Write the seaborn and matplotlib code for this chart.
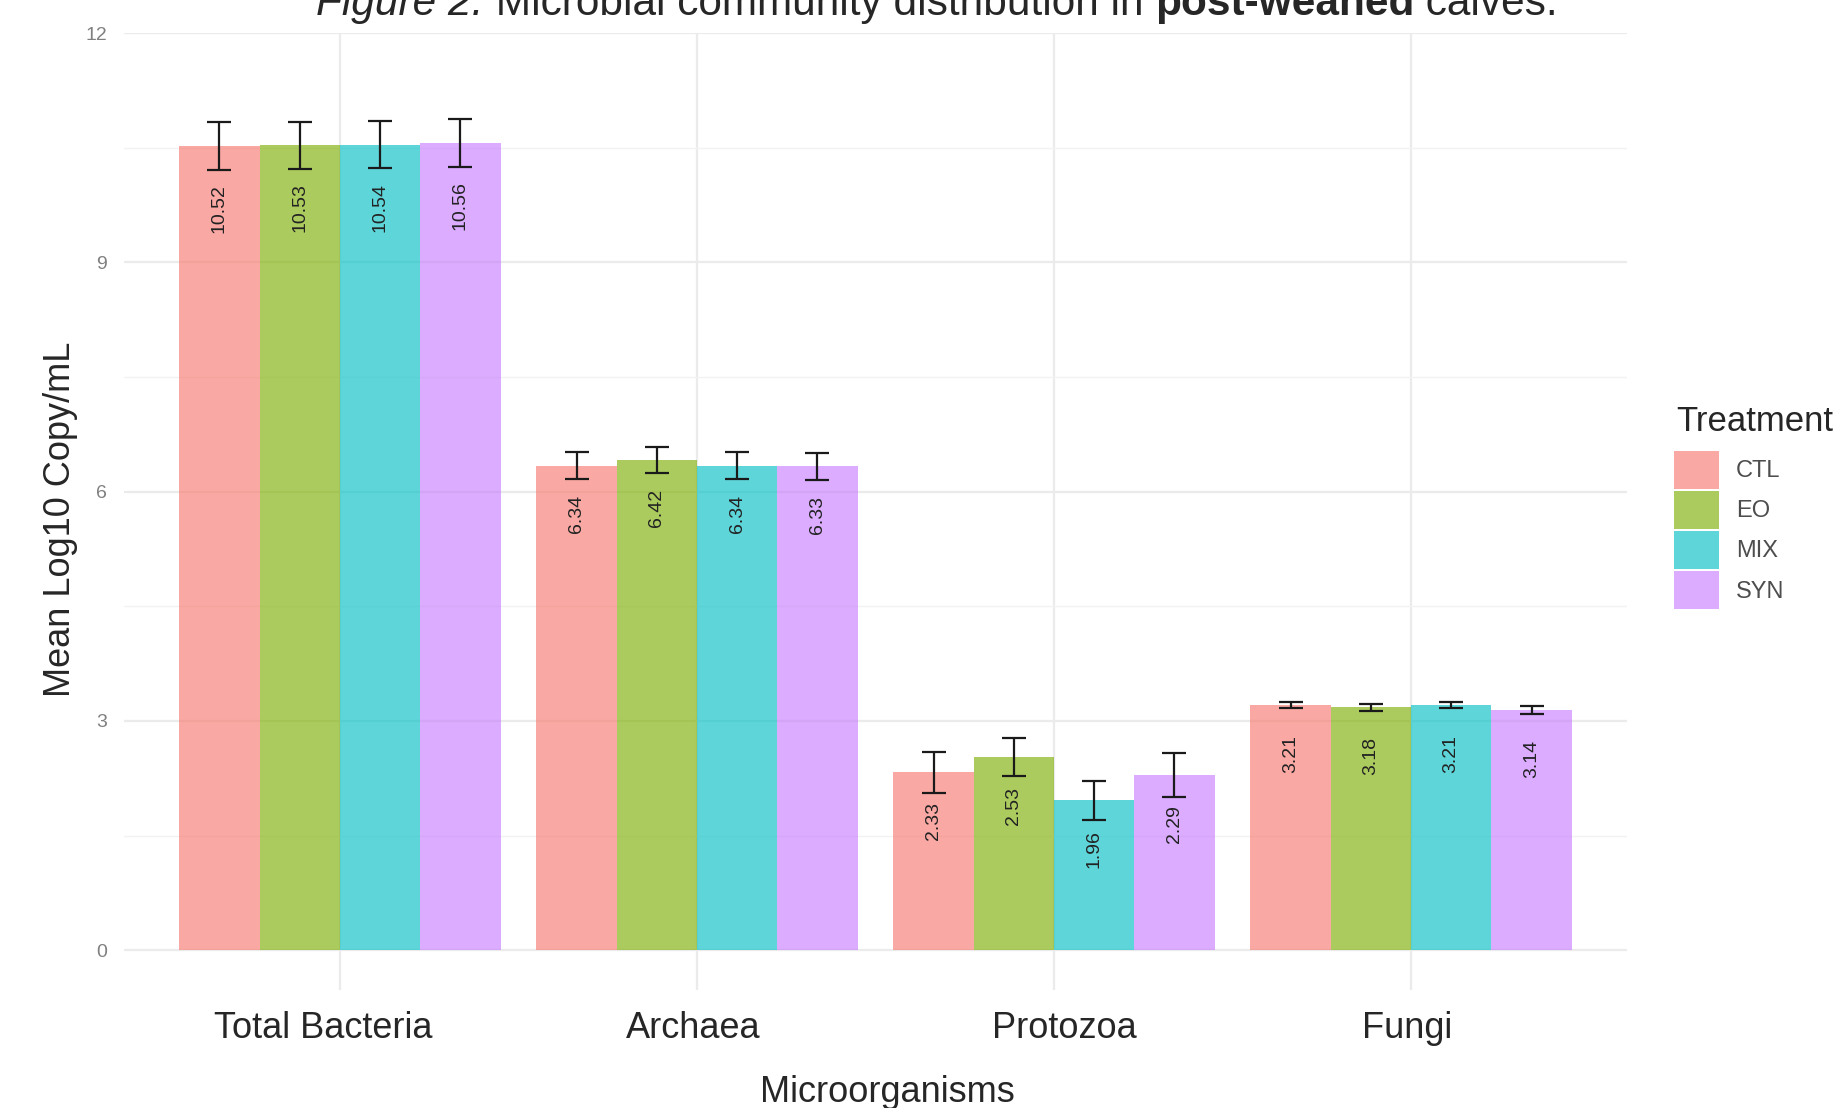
import numpy as np
import pandas as pd
import matplotlib
matplotlib.use('Agg')
import matplotlib.pyplot as plt
import matplotlib.transforms as mtransforms
import seaborn as sns

# values
microbes = ['Total Bacteria', 'Archaea', 'Protozoa', 'Fungi']
treatments = ['CTL', 'EO', 'MIX', 'SYN']
means = {
    'CTL': [10.52, 6.34, 2.33, 3.21],
    'EO':  [10.53, 6.42, 2.53, 3.18],
    'MIX': [10.54, 6.34, 1.96, 3.21],
    'SYN': [10.56, 6.33, 2.29, 3.14],
}
ses = {
    'CTL': [0.31, 0.18, 0.27, 0.04],
    'EO':  [0.31, 0.17, 0.25, 0.045],
    'MIX': [0.31, 0.18, 0.25, 0.04],
    'SYN': [0.31, 0.18, 0.29, 0.05],
}
palette = ['#F8766D', '#7CAE00', '#00BFC4', '#C77CFF']
# the category labels sit a little off their gridlines in the original (px)
label_shift = [-17, -3.5, 10.5, -3.5]

rows = []
for t in treatments:
    for m, v, s in zip(microbes, means[t], ses[t]):
        rows.append({'Microorganisms': m, 'Treatment': t, 'Mean': v, 'SE': s})
df = pd.DataFrame(rows)

sns.set_theme(style='white')
plt.rcParams['font.family'] = ['Liberation Sans', 'DejaVu Sans']

W, H = 1849, 1108
fig = plt.figure(figsize=(W / 100, H / 100), dpi=100)
ax = fig.add_axes([124 / W, 1 - 990 / H, (1627 - 124) / W, (990 - 33) / H])

sns.barplot(data=df, x='Microorganisms', y='Mean', hue='Treatment',
            order=microbes, hue_order=treatments, palette=palette,
            errorbar=None, width=0.9, gap=0, saturation=1, alpha=0.63,
            linewidth=0, ax=ax)

# error bars + rotated value labels
labels = []
for cont, t in zip(ax.containers, treatments):
    for bar, v, s in zip(cont, means[t], ses[t]):
        xc = bar.get_x() + bar.get_width() / 2
        ax.errorbar(xc, v, yerr=s, fmt='none', ecolor='#1a1a1a',
                    elinewidth=1.6, capsize=8.5, capthick=1.6, zorder=5)
        txt = ax.annotate(f'{v:.2f}', xy=(xc, v), xytext=(0, 0),
                          textcoords='offset pixels', rotation=90,
                          ha='center', va='top', fontsize=14,
                          color='#222222', zorder=6)
        labels.append(txt)

ax.set_xlim(-0.605, 3.605)
ax.set_ylim(-0.52, 12.0)
ax.set_yticks([0, 3, 6, 9, 12])
ax.set_yticks([1.5, 4.5, 7.5, 10.5], minor=True)
ax.grid(True, which='major', color='#EBEBEB', linewidth=1.6)
ax.grid(True, which='minor', axis='y', color='#F2F2F2', linewidth=1.0)
ax.set_axisbelow(True)
for sp in ax.spines.values():
    sp.set_visible(False)
ax.tick_params(axis='both', which='both', length=0)
ax.tick_params(axis='y', labelsize=14, pad=12, labelcolor='#808080')

# category labels drawn by hand so they can carry the small offsets
ax.set_xticks(range(len(microbes)))
ax.set_xticklabels([])
for i, (m, dx) in enumerate(zip(microbes, label_shift)):
    off = mtransforms.ScaledTranslation(dx / 100, 0, fig.dpi_scale_trans)
    ax.text(i, (990 - 1038) / 957, m, transform=ax.get_xaxis_transform() + off,
            ha='center', va='baseline', fontsize=26)

ax.set_xlabel('Microorganisms', fontsize=26)
ax.xaxis.set_label_coords(0.5077, -0.089)
ax.set_ylabel('')
fig.text(61 / W, 1 - 519 / H, 'Mean Log10 Copy/mL',
         rotation=90, ha='center', va='center', fontsize=26)

# legend
handles, labs = ax.get_legend_handles_labels()
ax.get_legend().remove()
fig.text(1676 / W, 1 - 421 / H, 'Treatment', fontsize=25,
         ha='left', va='center')
leg = fig.legend(handles, labs, loc='upper left',
                 bbox_to_anchor=(1674 / W, 1 - 451 / H), frameon=False,
                 fontsize=17, handlelength=1.9, handleheight=2.1,
                 labelspacing=0.085, handletextpad=0.72, borderpad=0,
                 borderaxespad=0)
for tx in leg.get_texts():
    tx.set_color('#4D4D4D')

# title with mixed styles
fig.canvas.draw()
r = fig.canvas.get_renderer()
pieces = [('Figure 2.', 'italic', 'normal'),
          (' Microbial community distribution in ', 'normal', 'normal'),
          ('post-weaned', 'normal', 'bold'),
          (' calves.', 'normal', 'normal')]
ty = 1 - 15 / H
objs = []
for s, st, wt in pieces:
    objs.append(fig.text(0, ty, s, fontsize=30.5, style=st, weight=wt,
                         ha='left', va='baseline'))
widths = [o.get_window_extent(r).width for o in objs]
x0 = 937 - sum(widths) / 2
for o, w in zip(objs, widths):
    o.set_x(x0 / W)
    x0 += w

# shift value labels down like ggplot hjust
for txt in labels:
    h = txt.get_window_extent(r).height
    txt.xyann = (0, -0.78 * h)

fig.savefig('out.png', dpi=100)
